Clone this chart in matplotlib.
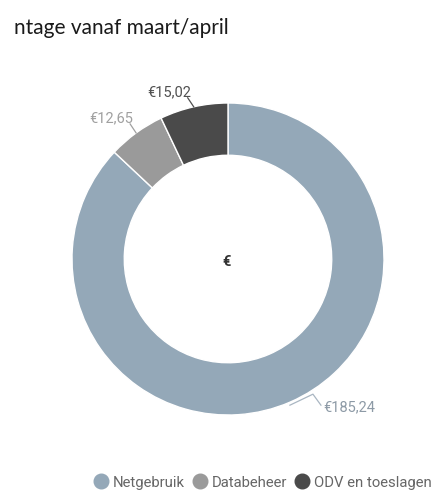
import numpy as np
import matplotlib

matplotlib.use("Agg")
import matplotlib.pyplot as plt
from matplotlib.lines import Line2D

# data
categories = ["Netgebruik", "Databeheer", "ODV en toeslagen"]
values = [185.24, 12.65, 15.02]
value_labels = ["€185,24", "€12,65", "€15,02"]
colors = ["#94a8b8", "#9a9a9a", "#4a4a4a"]
label_colors = ["#8d9aa6", "#a0a0a0", "#505050"]
title = "ntage vanaf maart/april"

W, H = 434, 502
fig = plt.figure(figsize=(W / 100, H / 100), dpi=100)
ax = fig.add_axes([0, 0, 1, 1])

cx, cy, R = 228, H - 260, 156
wedges, _ = ax.pie(
    values, colors=colors, startangle=90, counterclock=False,
    radius=R, center=(cx, cy), frame=True,
    wedgeprops=dict(width=R * 0.335, edgecolor="white", linewidth=1),
)
ax.set_xlim(0, W)
ax.set_ylim(0, H)
ax.axis("off")

# value labels with leader lines
for w, lab, lc in zip(wedges, value_labels, label_colors):
    ang = np.deg2rad((w.theta1 + w.theta2) / 2)
    x0, y0 = cx + R * np.cos(ang), cy + R * np.sin(ang)
    if np.cos(ang) > 0:
        # lower right: kinked leader
        xs = [x0, x0 + 23, x0 + 31]
        ys = [y0 - 3, y0 + 8, y0 - 3]
        ax.plot(xs, ys, color="#a9b6c2", lw=0.9)
        ax.text(xs[-1] + 2, ys[-1] - 1, lab, color=lc, fontsize=10.5,
                family="Roboto", ha="left", va="center")
    else:
        x1, y1 = x0 - 6, y0 + 9
        ax.plot([x0, x1], [y0, y1], color=lc, lw=0.9)
        ax.text(x1 + 3, y1, lab, color=lc, fontsize=10.5,
                family="Roboto", ha="right", va="bottom")

ax.text(cx - 1, cy - 2, "€", color="#333333", fontsize=10.5, family="Roboto",
        fontweight="bold", ha="center", va="center")

fig.text(229 / W, 1 - 28 / H, title, fontsize=15, family="Lato",
         color="#1a1a1a", ha="right", va="center")

handles = [Line2D([], [], marker="o", ls="", markersize=10.5,
                  markerfacecolor=c, markeredgecolor=c) for c in colors]
fig.legend(handles, categories, loc="center", bbox_to_anchor=(263 / W, 1 - 483 / H),
           ncol=3, frameon=False, handletextpad=0.35, columnspacing=0.55,
           handlelength=0.9, borderpad=0, prop={"family": "Roboto", "size": 10.7},
           labelcolor="#666666")

fig.savefig("out.png", dpi=100)
